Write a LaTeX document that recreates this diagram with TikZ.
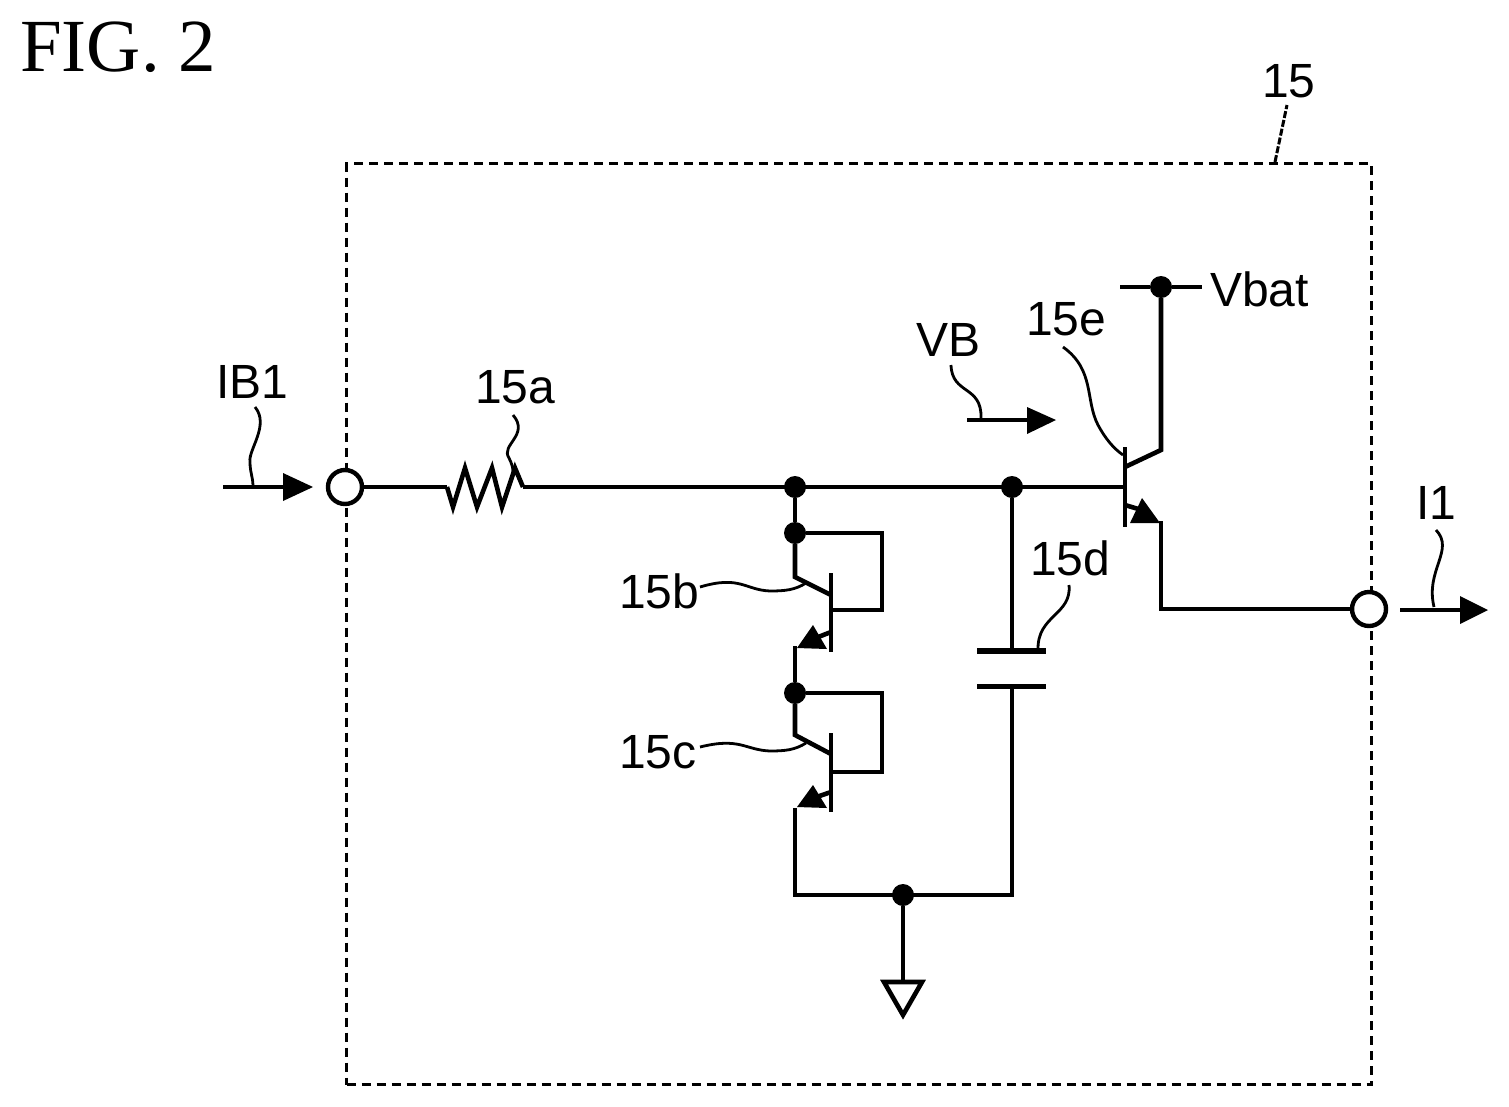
\documentclass[tikz,border=0pt]{standalone}
\usepackage{fontspec}
\setmainfont{Liberation Sans}
\newfontfamily\figfont{Liberation Serif}
\begin{document}
\begin{tikzpicture}[x=1pt,y=-1pt,
  wire/.style={line width=4.6pt,line join=miter},
  thinwire/.style={line width=3.4pt},
  leader/.style={line width=2.8pt},
  dot/.style={circle,fill=black,inner sep=0pt,minimum size=22pt},
  term/.style={circle,draw=black,fill=white,line width=4.4pt,inner sep=0pt,minimum size=34pt},
  lab/.style={inner sep=0pt,font=\fontsize{48}{48}\selectfont,anchor=base west},
  tip/.style={fill=black,draw=none}]
\useasboundingbox (0,0) rectangle (1509,1106);
% box
\node[draw=black,line width=3pt,dash pattern=on 9pt off 6pt,minimum width=1025pt,minimum height=921pt,inner sep=0pt,anchor=north west] (box) at (345,162) {};
\coordinate (ld15a) at (1275,162); \coordinate (ld15b) at (1287,105);
\draw[line width=3pt,dash pattern=on 7pt off 2pt] (ld15a) -- (ld15b);
% key coordinates
\coordinate (rA) at (447,487); \coordinate (rB) at (523,487);
\node[dot] (j1) at (795,487) {};
\node[dot] (j2) at (1012,487) {};
\node[dot] (j3) at (795,533) {};
\node[dot] (j4) at (795,693) {};
\node[dot] (j5) at (903,895) {};
\node[dot] (j6) at (1161,287) {};
\coordinate (be) at (1125,487);
\coordinate (c1t) at (1012,651); \coordinate (c2t) at (1012,686);
\coordinate (gnd) at (903,982);
% main wires
\draw[wire] (rA) -- (453,507) -- (465,468) -- (477,507) -- (492,468) -- (502,507) -- (515,468) -- (rB);
\draw[wire] (rB) -- (be);
\draw[wire] (j1) -- (j3);
\draw[wire] (j2) -- (c1t);
\draw[wire] (c2t) -- (1012,895) -- (795,895) -- (795,808);
\draw[wire] (j5) -- (gnd);
% ground
\draw[wire,line join=miter] (884,982) -- (922,982) -- (903,1015) -- cycle;
% capacitor
\draw[line width=6.5pt] (977,651) -- (1046,651);
\draw[line width=5pt] (977,686) -- (1046,686);
% transistor b
\draw[wire] (831,573) -- (831,652);
\draw[wire] (j3) -- (795,577) -- (831,595);
\draw[wire] (831,610) -- (882,610) -- (882,533) -- (j3);
\draw[wire] (831,632) -- (808,641);
\fill[tip] (797,648) -- (813,625) -- (827,649) -- cycle;
\draw[wire] (795,646) -- (j4);
% transistor c
\draw[wire] (831,733) -- (831,812);
\draw[wire] (j4) -- (795,735) -- (831,754);
\draw[wire] (831,772) -- (882,772) -- (882,693) -- (j4);
\draw[wire] (831,792) -- (808,800);
\fill[tip] (797,807) -- (813,785) -- (827,808) -- cycle;
% transistor e
\draw[wire] (1125,447) -- (1125,527);
\draw[wire] (1125,467) -- (1161,450) -- (j6);
\draw[wire] (1125,505) -- (1145,511);
\fill[tip] (1160,523) -- (1142,498) -- (1130,523) -- cycle;
\node[term] (tout) at (1369,609) {};
\draw[wire] (1161,521) -- (1161,609) -- (tout);
% Vbat bar
\coordinate (vl) at (1120,287); \coordinate (vr) at (1202,287);
\draw[wire] (vl) -- (j6) -- (vr);
% input terminal
\node[term] (tin) at (345,487) {};
\draw[wire] (tin) -- (rA);
% arrows
\coordinate (a1) at (223,487); \coordinate (a2) at (1400,610); \coordinate (a3) at (967,420);
\draw[wire] (a1) -- (290,487);
\fill[tip] (313,487) -- (283,473) -- (283,501) -- cycle;
\draw[wire] (a2) -- (1465,610);
\fill[tip] (1488,610) -- (1460,596) -- (1460,624) -- cycle;
\draw[thinwire] (a3) -- (1035,420);
\fill[tip] (1056,420) -- (1027,407) -- (1027,434) -- cycle;
% leaders
\draw[leader] (255,407) .. controls (270,425) and (248,450) .. (250,462) .. controls (250,472) and (253,478) .. (253,485);
\draw[leader] (513,415) .. controls (530,435) and (500,445) .. (509,458) .. controls (512,464) and (513,468) .. (513,472);
\draw[leader] (700,587) .. controls (740,575) and (745,590) .. (770,591) .. controls (785,591) and (795,590) .. (806,583);
\draw[leader] (700,747) .. controls (740,737) and (745,750) .. (770,751) .. controls (785,751) and (795,750) .. (806,743);
\draw[leader] (1069,585) .. controls (1072,615) and (1037,615) .. (1038,650);
\draw[leader] (1063,347) .. controls (1095,370) and (1085,400) .. (1098,425) .. controls (1105,438) and (1113,448) .. (1123,455);
\draw[leader] (951,365) .. controls (952,395) and (982,385) .. (981,418);
\draw[leader] (1436,530) .. controls (1455,550) and (1425,570) .. (1434,607);
% labels
\node[inner sep=0pt,anchor=base west,font=\figfont\fontsize{75}{75}\selectfont] (fig) at (20,71) {FIG. 2};
\node[lab] (l15) at (1262,97) {15};
\node[lab] (lv) at (1210,306) {Vbat};
\node[lab] (lvb) at (916,356) {VB};
\node[lab] (l15e) at (1026,335) {15e};
\node[lab] (l15d) at (1030,575) {15d};
\node[lab] (l15b) at (619,608) {15b};
\node[lab] (l15c) at (619,768) {15c};
\node[lab] (lib) at (216,398) {IB1};
\node[lab] (li1) at (1416,519) {I1};
\node[lab] (l15a) at (475,403) {15a};
\end{tikzpicture}
\end{document}
